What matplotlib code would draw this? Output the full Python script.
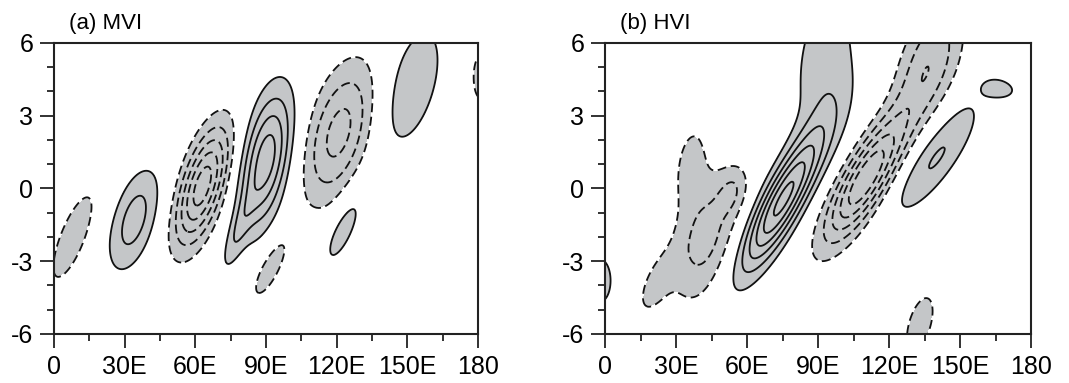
import matplotlib
matplotlib.use("Agg")
import matplotlib.pyplot as plt
import numpy as np

# Blob parameters: centre lon, centre lat, amplitude
# (in units of the contour interval), lon spread, lat spread, tilt.
MVI_LON = [8, 34, 63, 90, 78, 121, 152, 181, 123, 91.5]
MVI_LAT = [-2.0, -1.3, 0.1, 1.2, -1.8, 2.3, 4.2, 4.6, -1.6, -3.3]
MVI_AMP = [-1.6, 2.5, -5.6, 4.6, 1.5, -3.4, 1.8, -1.6, 1.6, -1.6]
MVI_SX = [8.5, 7.7, 8.0, 7.7, 5.0, 10.5, 10.0, 3.0, 7.0, 6.5]
MVI_SY = [1.7, 1.5, 1.7, 1.95, 1.2, 2.0, 2.0, 0.9, 1.3, 1.1]
MVI_RHO = [0.75, 0.5, 0.6, 0.45, 0.8, 0.45, 0.5, 0.0, 0.75, 0.75]

HVI_LON = [75, 93, 110, 137, 42, 36, 54, 21, 140, 167, -2, 133]
HVI_LAT = [-0.5, 5.0, 0.4, 5.2, -2.0, 1.1, -0.1, -4.0, 1.3, 4.1, -3.8, -5.6]
HVI_AMP = [6.3, 1.7, -6.0, -2.8, -2.4, -1.35, -1.3, -1.3, 2.15, 1.3, 1.8, -1.5]
HVI_SX = [12.0, 10.0, 12.0, 10.0, 10.0, 5.0, 4.5, 6.0, 13.0, 6.0, 4.0, 6.0]
HVI_SY = [2.0, 2.5, 1.8, 1.8, 1.9, 1.2, 0.7, 1.0, 1.7, 0.35, 0.8, 1.2]
HVI_RHO = [0.85, 0.2, 0.8, 0.5, 0.4, 0.3, 0.3, 0.6, 0.82, -0.2, 0.0, 0.5]

PANELS = ["(a) MVI", "(b) HVI"]
XTICKS = [0, 30, 60, 90, 120, 150, 180]
XTICKLABELS = ["0", "30E", "60E", "90E", "120E", "150E", "180"]
YTICKS = [-6, -3, 0, 3, 6]
YTICKLABELS = ["-6", "-3", "0", "3", "6"]

plt.rcParams["font.family"] = ["Liberation Sans", "DejaVu Sans"]

lon = np.linspace(0, 180, 361)
lat = np.linspace(-6, 6, 241)
LON, LAT = np.meshgrid(lon, lat)


def field(lons, lats, amps, sxs, sys_, rhos):
    z = np.zeros_like(LON)
    for x0, y0, a, sx, sy, r in zip(lons, lats, amps, sxs, sys_, rhos):
        dx = (LON - x0) / sx
        dy = (LAT - y0) / sy
        q = (dx ** 2 - 2 * r * dx * dy + dy ** 2) / (1 - r ** 2)
        z += a * np.exp(-0.5 * q)
    return z


fields = [
    field(MVI_LON, MVI_LAT, MVI_AMP, MVI_SX, MVI_SY, MVI_RHO),
    field(HVI_LON, HVI_LAT, HVI_AMP, HVI_SX, HVI_SY, HVI_RHO),
]

fig = plt.figure(figsize=(10.69, 3.83), dpi=100)
axes = [fig.add_axes([0.0505, 0.128, 0.3966, 0.760]),
        fig.add_axes([0.566, 0.128, 0.3985, 0.760])]

neg_levels = [-8, -7, -6, -5, -4, -3, -2, -1]
pos_levels = [1, 2, 3, 4, 5, 6, 7, 8]

for ax, z, title in zip(axes, fields, PANELS):
    ax.contourf(LON, LAT, z, levels=[-100, -1, 1, 100],
                colors=["#c4c6c8", "white", "#c4c6c8"])
    ax.contour(LON, LAT, z, levels=neg_levels, colors="#111111",
               linewidths=1.3, linestyles=[(0, (5, 2.5))])
    ax.contour(LON, LAT, z, levels=pos_levels, colors="#111111",
               linewidths=1.3, linestyles="solid")
    ax.set_xlim(0, 180)
    ax.set_ylim(-6, 6)
    ax.set_xticks(XTICKS)
    ax.set_xticklabels(XTICKLABELS)
    ax.set_yticks(YTICKS)
    ax.set_yticklabels(YTICKLABELS)
    ax.set_xticks(np.arange(0, 181, 15), minor=True)
    ax.set_yticks(np.arange(-6, 7, 1), minor=True)
    ax.tick_params(which="both", direction="out", top=False, right=False,
                   width=1.3, labelsize=18, color="#222222")
    ax.tick_params(which="major", length=10, pad=5)
    ax.tick_params(which="minor", length=5)
    for s in ax.spines.values():
        s.set_linewidth(1.5)
        s.set_color("#222222")
    ax.set_title(title, loc="left", x=0.035, fontsize=16, pad=10)

fig.savefig("out.png", dpi=100)
